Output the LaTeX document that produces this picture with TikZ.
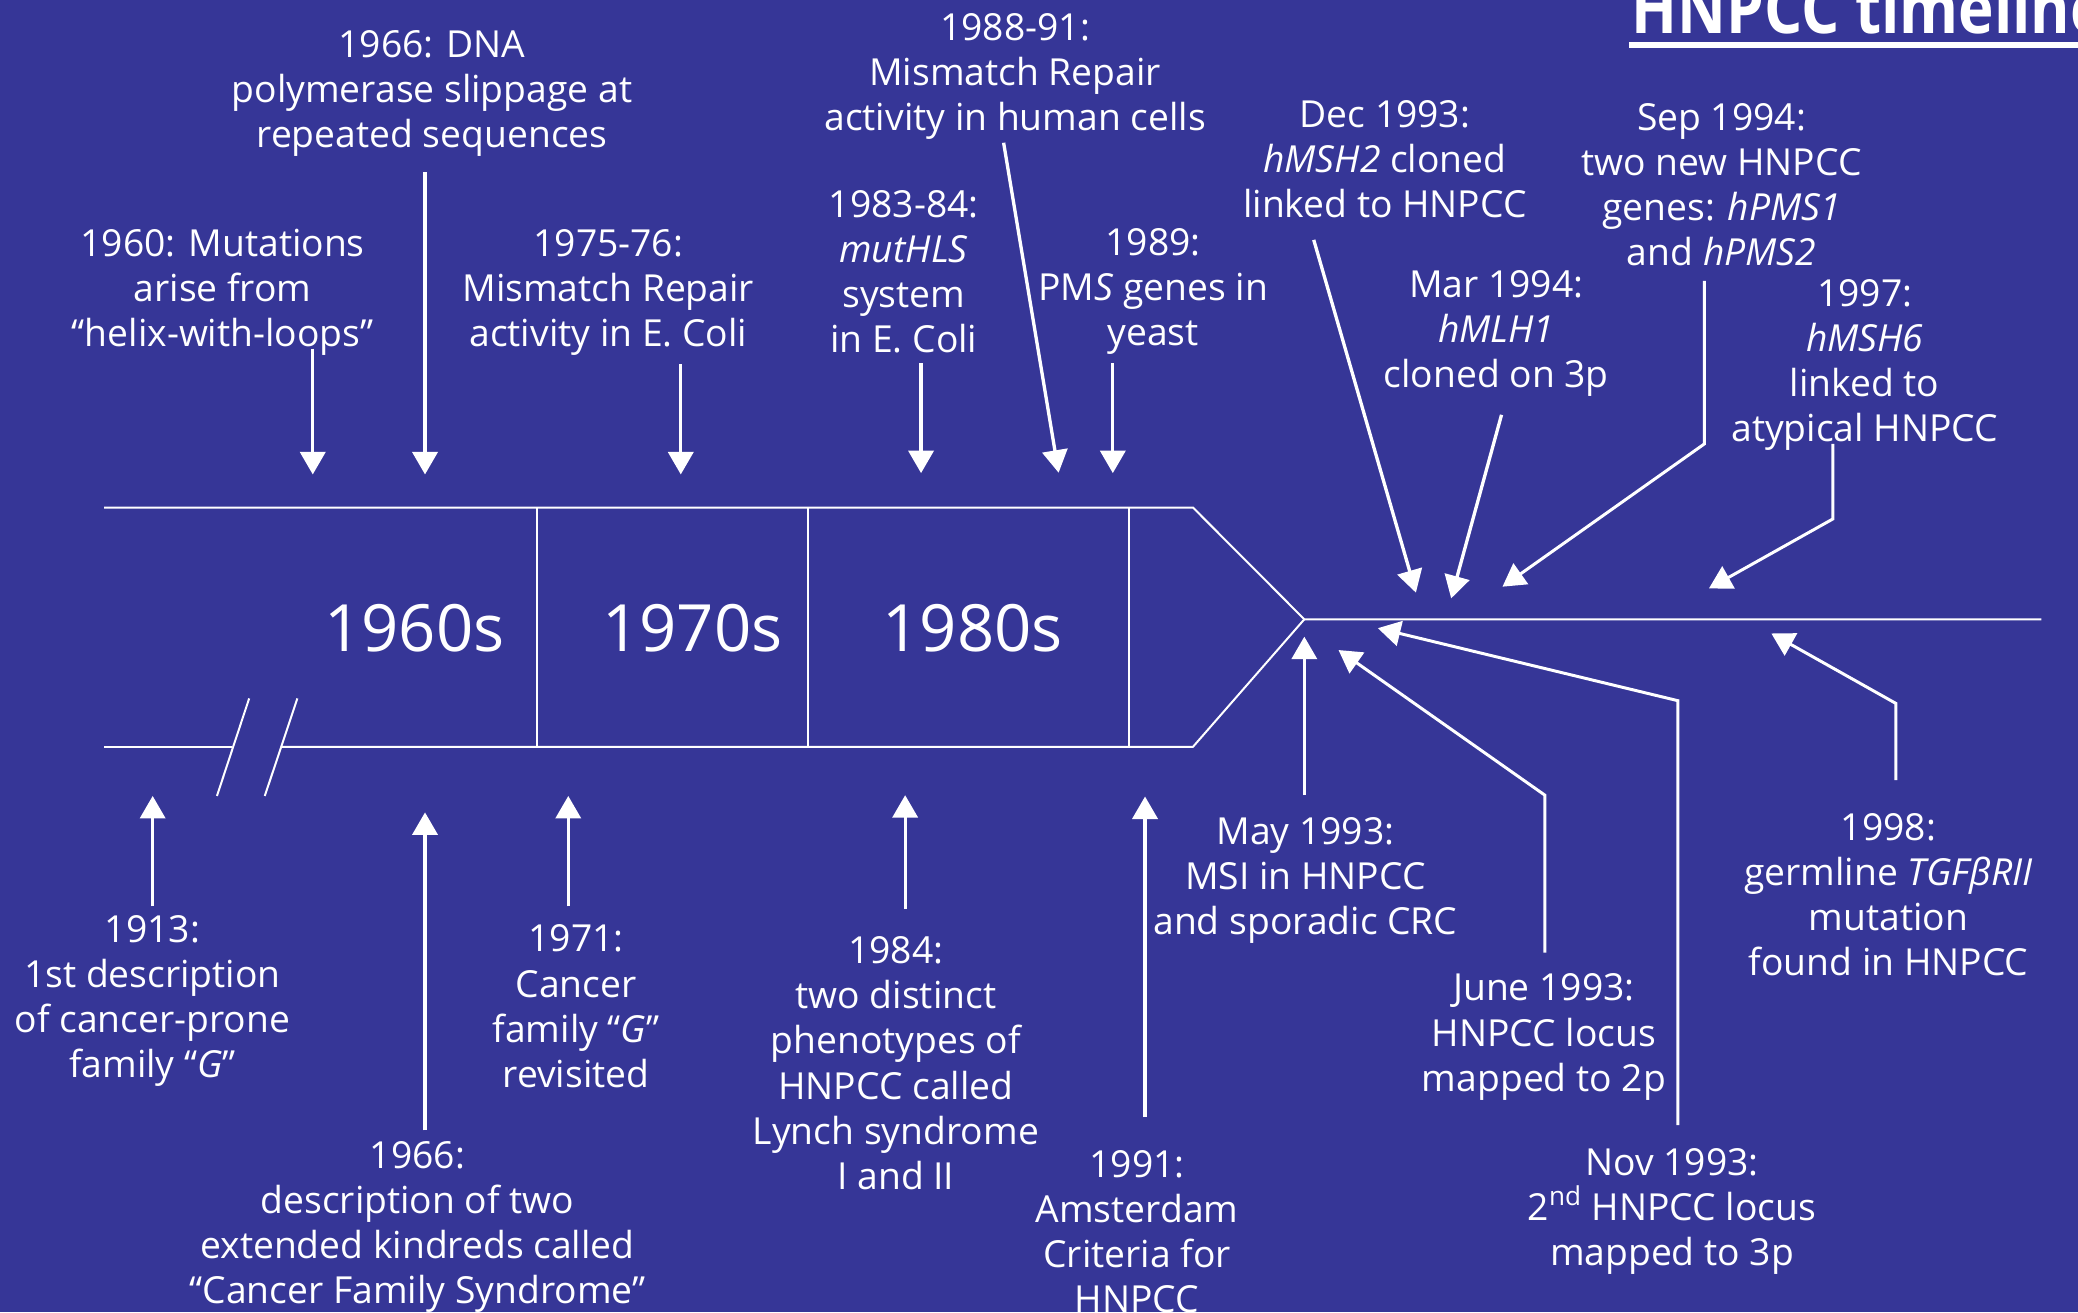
\documentclass[tikz,border=0pt]{standalone}
\usepackage{fontspec}
\usepackage{graphicx}
\setmainfont{Open Sans}
\usetikzlibrary{arrows.meta}
\definecolor{bg}{RGB}{54,54,151}
\newcommand{\lst}{\rule{0pt}{12.5pt}}
\begin{document}
\begin{tikzpicture}[x=0.02cm,y=-0.02cm,
  lbl/.style={align=center,anchor=north,inner sep=0pt,text=white,font=\fontsize{16}{19.35}\selectfont},
  decade/.style={anchor=base,inner sep=0pt,text=white,font=\fontsize{28}{34}\selectfont},
  band/.style={draw=white,line width=0.03cm},
  ptr/.style={draw=white,line width=0.05cm,-{Triangle[length=0.34cm,width=0.38cm]}},
  bent/.style={draw=white,line width=0.045cm,line join=miter,-{Triangle[length=0.34cm,width=0.38cm]}}
]
\fill[bg] (0,0) rectangle (1568,990);
\useasboundingbox (0,0) rectangle (1568,990);
\clip (0,0) rectangle (1568,990);

% title
\node[anchor=base west,inner sep=0pt,text=white,font=\fontsize{30}{36}\selectfont\bfseries] (title) at (1231,25.6) {\scalebox{0.86}[1]{HNPCC timeline}};
\coordinate (ulA) at (1229,34);
\coordinate (ulB) at (1568,34);
\draw[white,line width=0.08cm] (ulA) -- (ulB);

% band
\coordinate (tl) at (78.5,383);
\coordinate (tr) at (900.2,383);
\coordinate (apex) at (984.2,467.3);
\coordinate (axisend) at (1540.4,467.3);
\coordinate (br) at (900.2,563.5);
\coordinate (bgap2) at (212,563.5);
\coordinate (bgap1) at (175,563.5);
\coordinate (bl) at (78.5,563.5);
\draw[band] (tl) -- (tr) -- (apex) -- (axisend);
\draw[band] (apex) -- (br) -- (bgap2);
\draw[band] (bgap1) -- (bl);
\coordinate (s1a) at (188,527);   \coordinate (s1b) at (163.7,600.6);
\coordinate (s2a) at (224.4,527); \coordinate (s2b) at (199.8,600.6);
\draw[band] (s1a) -- (s1b);
\draw[band] (s2a) -- (s2b);
\foreach \x/\n in {405.3/d1,610/d2,851.7/d3}{
  \coordinate (\n t) at (\x,383);
  \coordinate (\n b) at (\x,563.5);
  \draw[band] (\n t) -- (\n b);
}
\node[decade] (dec60) at (312.6,491.7) {1960s};
\node[decade] (dec70) at (522.5,491.7) {1970s};
\node[decade] (dec80) at (734,491.7) {1980s};

% top labels
\node[lbl] (t1960) at (168,171) {\lst 1960: Mutations\\arise from\\“helix-with-loops”};
\node[lbl] (t1966) at (326,21) {\lst 1966: DNA\\polymerase slippage at\\repeated sequences};
\node[lbl] (t1975) at (459,171) {\lst 1975-76:\\Mismatch Repair\\activity in E. Coli};
\node[lbl] (t1983) at (682,141.5) {\lst 1983-84:\\\textit{mutHLS}\\system\\in E. Coli};
\node[lbl] (t1988) at (766,8.2) {\lst 1988-91:\\Mismatch Repair\\activity in human cells};
\node[lbl] (t1989) at (870,170.5) {\lst 1989:\\PM\textit{S} genes in\\yeast};
\node[lbl] (tDec93) at (1045,73.6) {\lst Dec 1993:\\\textit{hMSH2} cloned\\linked to HNPCC};
\node[lbl] (tMar94) at (1129,202) {\lst Mar 1994:\\\textit{hMLH1}\\cloned on 3p};
\node[lbl] (tSep94) at (1299,76) {\lst Sep 1994:\\two new HNPCC\\genes: \textit{hPMS1}\\and \textit{hPMS2}};
\node[lbl] (t1997) at (1407,209) {\lst 1997:\\\textit{hMSH6}\\linked to\\atypical HNPCC};

% bottom labels
\node[lbl] (b1913) at (115,688.5) {\lst 1913:\\1st description\\of cancer-prone\\family “\textit{G}”};
\node[lbl] (b1966) at (315,859.6) {\lst 1966:\\description of two\\extended kindreds called\\“Cancer Family Syndrome”};
\node[lbl] (b1971) at (434.6,696) {\lst 1971:\\Cancer\\family “\textit{G}”\\revisited};
\node[lbl] (b1984) at (676,705) {\lst 1984:\\two distinct\\phenotypes of\\HNPCC called\\Lynch syndrome\\I and II};
\node[lbl] (b1991) at (858,866) {\lst 1991:\\Amsterdam\\Criteria for\\HNPCC};
\node[lbl] (bMay93) at (985,615) {\lst May 1993:\\MSI in HNPCC\\and sporadic CRC};
\node[lbl] (bJun93) at (1165,733) {\lst June 1993:\\HNPCC locus\\mapped to 2p};
\node[lbl] (bNov93) at (1261.6,864.6) {\lst Nov 1993:\\2\textsuperscript{nd} HNPCC locus\\mapped to 3p};
\node[lbl] (b1998) at (1425,612) {\lst 1998:\\germline \textit{TGFβRII}\\mutation\\found in HNPCC};

% top arrows
\coordinate (a1s) at (236,263);    \coordinate (a1e) at (236,358);
\coordinate (a2s) at (320.7,130);  \coordinate (a2e) at (320.7,358);
\coordinate (a3s) at (513.7,275);  \coordinate (a3e) at (513.7,358);
\coordinate (a4s) at (695,274);    \coordinate (a4e) at (695,357);
\coordinate (a5s) at (757.3,107.7);\coordinate (a5e) at (798.8,356.7);
\coordinate (a6s) at (839.7,274);  \coordinate (a6e) at (839.7,357);
\coordinate (a7s) at (991.3,181);  \coordinate (a7e) at (1068.4,447.2);
\coordinate (a8s) at (1133,313);   \coordinate (a8e) at (1095,451.5);
\coordinate (a9s) at (1286,212);   \coordinate (a9m) at (1286,335);   \coordinate (a9e) at (1133.7,442.7);
\coordinate (a10s) at (1383,335);  \coordinate (a10m) at (1383,391.6);\coordinate (a10e) at (1289.5,444);
\draw[ptr] (a1s) -- (a1e);
\draw[ptr] (a2s) -- (a2e);
\draw[ptr] (a3s) -- (a3e);
\draw[ptr] (a4s) -- (a4e);
\draw[ptr] (a5s) -- (a5e);
\draw[ptr] (a6s) -- (a6e);
\draw[ptr] (a7s) -- (a7e);
\draw[ptr] (a8s) -- (a8e);
\draw[bent] (a9s) -- (a9m) -- (a9e);
\draw[bent] (a10s) -- (a10m) -- (a10e);

% bottom arrows
\coordinate (c1s) at (115.2,684);  \coordinate (c1e) at (115.2,600.6);
\coordinate (c2s) at (320.7,853);  \coordinate (c2e) at (320.7,613);
\coordinate (c3s) at (428.8,684);  \coordinate (c3e) at (428.8,600.6);
\coordinate (c4s) at (683,686);    \coordinate (c4e) at (683,600);
\coordinate (c5s) at (864,843);    \coordinate (c5e) at (864,601);
\coordinate (c6s) at (984.2,600);  \coordinate (c6e) at (984.2,480.4);
\coordinate (c7s) at (1165.7,718.8); \coordinate (c7m) at (1165.7,600); \coordinate (c7e) at (1010,490.5);
\coordinate (c8s) at (1266,848.9); \coordinate (c8m) at (1266,528.7); \coordinate (c8e) at (1039.7,474);
\coordinate (c9s) at (1430.6,588.6); \coordinate (c9m) at (1430.6,530.8); \coordinate (c9e) at (1336.6,478);
\draw[ptr] (c1s) -- (c1e);
\draw[ptr] (c2s) -- (c2e);
\draw[ptr] (c3s) -- (c3e);
\draw[ptr] (c4s) -- (c4e);
\draw[ptr] (c5s) -- (c5e);
\draw[ptr] (c6s) -- (c6e);
\draw[bent] (c7s) -- (c7m) -- (c7e);
\draw[bent] (c8s) -- (c8m) -- (c8e);
\draw[bent] (c9s) -- (c9m) -- (c9e);
\end{tikzpicture}
\end{document}
